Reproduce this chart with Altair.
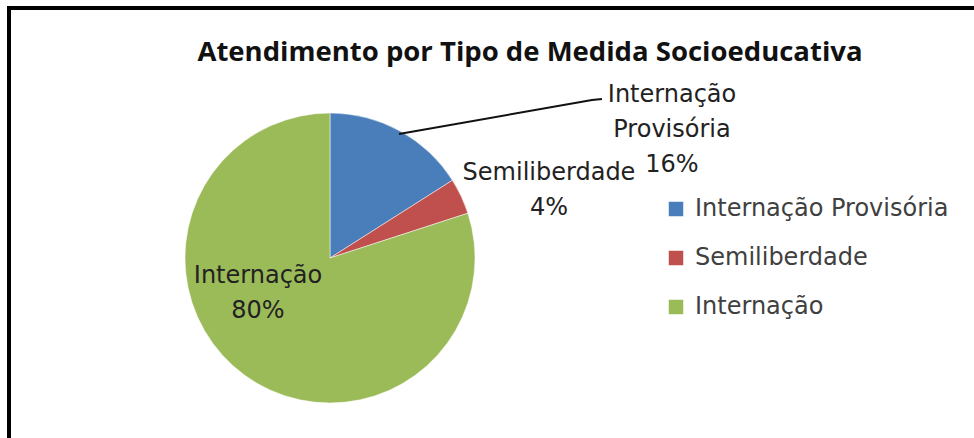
import altair as alt
import pandas as pd

# ---- data ----
categories = ["Internação Provisória", "Semiliberdade", "Internação"]
values = [16, 4, 80]
label_lines = [["Internação", "Provisória"], ["Semiliberdade"], ["Internação"]]
colors = ["#4A7EBB", "#C0504D", "#9BBB59"]
title_text = "Atendimento por Tipo de Medida Socioeducativa"

# ---- layout (pixels) ----
W, H = 974, 438
CX, CY, R = 330, 258, 145
label_pos = {  # (center x, first baseline y)
    "Internação Provisória": (672, 102),
    "Semiliberdade": (549, 180),
    "Internação": (258, 283),
}
LINE_H = 35
leader = pd.DataFrame({"x": [399, 592, 602], "y": [134, 100, 99], "o": [0, 1, 2]})

pie_df = pd.DataFrame({"cat": categories, "value": values, "order": list(range(len(values)))})

rows = []
for cat, v, lines in zip(categories, values, label_lines):
    x0, y0 = label_pos[cat]
    for i, t in enumerate(lines + [f"{v}%"]):
        rows.append({"text": t, "x": x0, "y": y0 + i * LINE_H})
lab_df = pd.DataFrame(rows)

color_scale = alt.Scale(domain=categories, range=colors)

pie = alt.Chart(pie_df).mark_arc(radius=R, stroke="white", strokeWidth=0.5).encode(
    theta=alt.Theta("value:Q", stack=True),
    order=alt.Order("order:Q"),
    color=alt.Color(
        "cat:N",
        scale=color_scale,
        sort=categories,
        legend=alt.Legend(
            orient="none", legendX=664, legendY=197, title=None,
            symbolType="square", symbolSize=210, symbolStrokeWidth=0,
            labelFont="DejaVu Sans", labelFontSize=24, labelColor="#404040",
            labelOffset=7, rowPadding=25, padding=0, labelLimit=500,
        ),
    ),
    x=alt.value(CX),
    y=alt.value(CY),
)

labels = alt.Chart(lab_df).mark_text(
    font="DejaVu Sans", fontSize=24, color="#222222", align="center", baseline="alphabetic"
).encode(
    x=alt.X("x:Q", scale=None),
    y=alt.Y("y:Q", scale=None),
    text="text:N",
)

leader_line = alt.Chart(leader).mark_line(color="#111111", strokeWidth=2).encode(
    x=alt.X("x:Q", scale=None),
    y=alt.Y("y:Q", scale=None),
    order="o:Q",
)

title = alt.Chart(pd.DataFrame({"t": [title_text]})).mark_text(
    font="Open Sans", fontSize=27.5, fontWeight="bold", color="#111111",
    align="center", baseline="alphabetic",
).encode(x=alt.value(530), y=alt.value(61), text="t:N")

border_top = alt.Chart(pd.DataFrame({"a": [0]})).mark_rule(color="black", strokeWidth=4).encode(
    x=alt.value(7), x2=alt.value(W), y=alt.value(8)
)
border_left = alt.Chart(pd.DataFrame({"a": [0]})).mark_rule(color="black", strokeWidth=4).encode(
    x=alt.value(9), y=alt.value(6), y2=alt.value(H)
)

chart = alt.layer(pie, leader_line, labels, title, border_top, border_left).properties(
    width=W, height=H, padding=0, autosize=alt.AutoSizeParams(type="none"),
    background="white",
).configure_view(stroke=None)

chart.save("out.html", embed_options={"renderer": "svg", "actions": False})
